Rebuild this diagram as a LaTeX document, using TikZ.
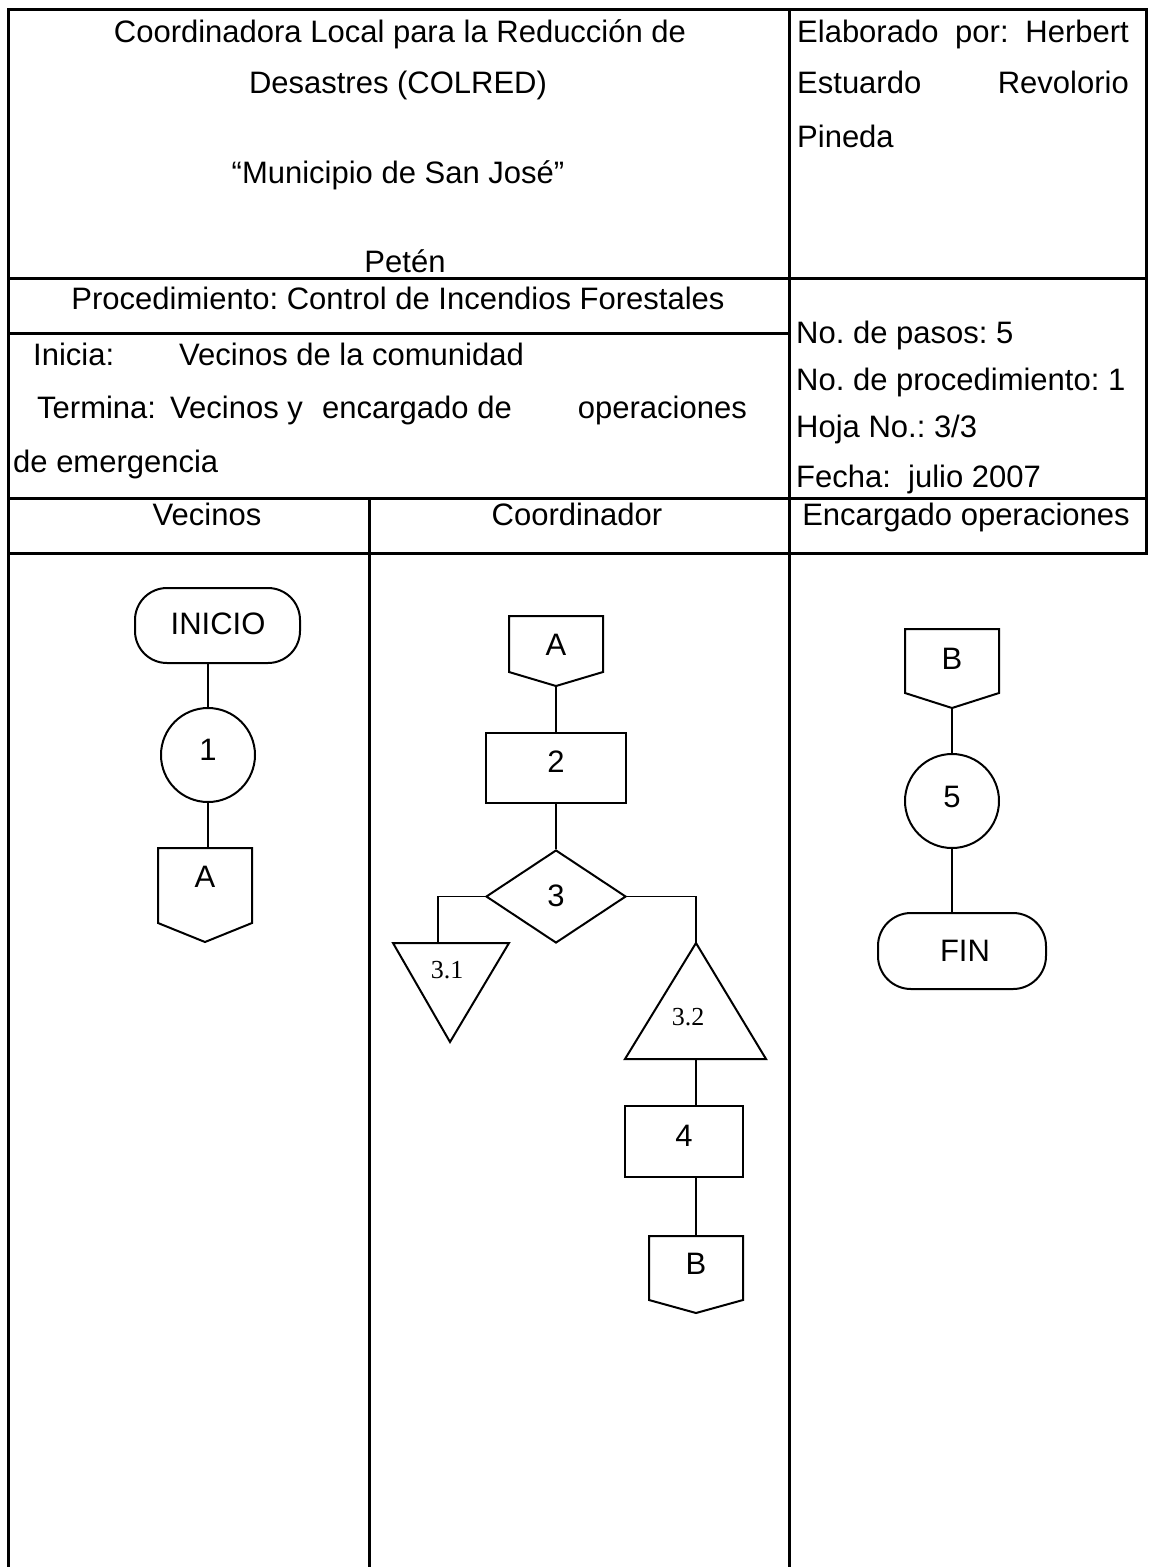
\documentclass[tikz,border=0pt]{standalone}
\usepackage{fontspec}
\setmainfont{Liberation Sans}
\newfontfamily\numserif{Liberation Serif}
\usetikzlibrary{shapes.geometric,calc}
\frenchspacing
\begin{document}
\begin{tikzpicture}[x=1pt,y=-1pt,
  tbl/.style={line width=3pt, line cap=rect},
  shp/.style={draw, line width=2pt},
  conn/.style={line width=1.8pt},
  txt/.style={inner sep=0pt, font=\frenchspacing\fontsize{31}{37}\selectfont},
  lw/.style={txt, anchor=base west},
  le/.style={txt, anchor=base east},
  lc/.style={txt, anchor=base},
  lab/.style={inner sep=0pt, font=\fontsize{31}{37}\selectfont},
  sublab/.style={inner sep=0pt, font=\numserif\fontsize{26}{30}\selectfont},
  boxn/.style={shp, rectangle, inner sep=0pt},
  circn/.style={shp, circle, inner sep=0pt, minimum size=94},
  termn/.style={shp, rectangle, rounded corners=32, inner sep=0pt},
  diam/.style={shp, diamond, inner sep=0pt}
]
\useasboundingbox[fill=white] (0,0) rectangle (1149,1567);

% ---------- table ----------
\draw[tbl] (8,9) -- (1146,9);
\draw[tbl] (8,9) -- (8,1567);
\draw[tbl] (1146,9) -- (1146,553);
\draw[tbl] (789,9) -- (789,1567);
\draw[tbl] (8,278) -- (1146,278);
\draw[tbl] (8,333) -- (789,333);
\draw[tbl] (8,498) -- (1146,498);
\draw[tbl] (8,553) -- (1146,553);
\draw[tbl] (369,498) -- (369,1567);

% ---------- header texts ----------
\node[lc] (h1) at (400,42) {Coordinadora Local para la Reducción de};
\node[lc] (h2) at (398,93) {Desastres (COLRED)};
\node[lc] (h3) at (398,183) {“Municipio de San José”};
\node[lc] (h4) at (405,272) {Petén};

\node[lw] (e1) at (797,42) {Elaborado};
\node[lw] (e2) at (955,42) {por:};
\node[le] (e3) at (1129,42) {Herbert};
\node[lw] (e4) at (797,93) {Estuardo};
\node[le] (e5) at (1129,93) {Revolorio};
\node[lw] (e6) at (797,147) {Pineda};

\node[lc] (p1) at (398,309) {Procedimiento: Control de Incendios Forestales};
\node[lw] (i1) at (33,365) {Inicia:};
\node[lw] (i2) at (179,365) {Vecinos de la comunidad};
\node[lw] (t1) at (37,418) {Termina:};
\node[lw] (t2) at (170,418) {Vecinos y};
\node[lw] (t3) at (322,418) {encargado de};
\node[le] (t4) at (747,418) {operaciones};
\node[lw] (t5) at (13,472) {de emergencia};

\node[lw] (n1) at (796,343) {No. de pasos: 5};
\node[lw] (n2) at (796,390) {No. de procedimiento: 1};
\node[lw] (n3) at (796,437) {Hoja No.: 3/3};
\node[lw] (n4) at (796,487) {Fecha:\ \ julio 2007};

\node[lc] (c1h) at (207,525) {Vecinos};
\node[lc] (c2h) at (577,525) {Coordinador};
\node[lc] (c3h) at (966,525) {Encargado operaciones};

% ---------- lane 1: Vecinos ----------
\node[termn, minimum width=165, minimum height=75] (ini) at (217.5,625.5) {};
\node[lab] (iniT) at (218,624) {INICIO};
\node[circn] (s1) at (208,755) {};
\node[lab] (s1T) at (208,750) {1};
\draw[shp] (158,848) -- (252,848) -- (252,923) -- (205,942) -- (158,923) -- cycle;
\coordinate (A1top) at (205,848);
\node[lab] (A1T) at (205,877) {A};
\draw[conn] (s1.north) -- (s1.north |- ini.south);
\draw[conn] (s1.south) -- (s1.south |- A1top);

% ---------- lane 2: Coordinador ----------
\draw[shp] (509,616) -- (603,616) -- (603,672) -- (556,686) -- (509,672) -- cycle;
\coordinate (A2tip) at (556,686);
\node[lab] (A2T) at (556,645) {A};
\node[boxn, minimum width=140, minimum height=70] (s2) at (556,768) {};
\node[lab] (s2T) at (556,762) {2};
\node[diam, minimum width=140, minimum height=93] (s3) at (556,896.5) {};
\node[lab] (s3T) at (556,896) {3};
\draw[shp] (393,943) -- (509,943) -- (450,1042) -- cycle;
\coordinate (t31top) at (438,943);
\node[sublab] (t31T) at (447,970) {3.1};
\draw[shp] (696,943) -- (766,1059) -- (625,1059) -- cycle;
\coordinate (t32apex) at (696,943);
\coordinate (t32base) at (696,1059);
\node[sublab] (t32T) at (688,1017) {3.2};
\node[boxn, minimum width=118, minimum height=71] (s4) at (684,1141.5) {};
\node[lab] (s4T) at (684,1136) {4};
\draw[shp] (649,1236) -- (743,1236) -- (743,1300) -- (696,1313) -- (649,1300) -- cycle;
\coordinate (B2top) at (696,1236);
\node[lab] (B2T) at (696,1264) {B};

\draw[conn] (A2tip) -- (s2.north);
\draw[conn] (s2.south) -- (s3.north);
\draw[conn] (s3.west) -- (s3.west -| t31top) -- (t31top);
\draw[conn] (s3.east) -- (s3.east -| t32apex) -- (t32apex);
\draw[conn] (t32base) -- (t32base |- s4.north);
\draw[conn] (s4.south -| B2top) -- (B2top);

% ---------- lane 3: Encargado operaciones ----------
\draw[shp] (905,629) -- (999,629) -- (999,693) -- (952,708) -- (905,693) -- cycle;
\coordinate (B3tip) at (952,708);
\node[lab] (B3T) at (952,659) {B};
\node[circn] (s5) at (952,801) {};
\node[lab] (s5T) at (952,797) {5};
\node[termn, rounded corners=33, minimum width=168, minimum height=76] (fin) at (962,951) {};
\node[lab] (finT) at (965,951) {FIN};
\draw[conn] (B3tip) -- (s5.north);
\draw[conn] (s5.south) -- (s5.south |- fin.north);
\end{tikzpicture}
\end{document}
